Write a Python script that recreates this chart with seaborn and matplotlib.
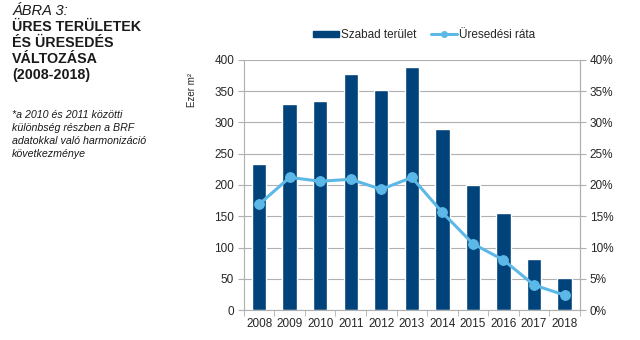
import matplotlib
matplotlib.use("Agg")
import matplotlib.pyplot as plt
import seaborn as sns
import pandas as pd
from matplotlib.ticker import FuncFormatter, MultipleLocator
from matplotlib.lines import Line2D
from matplotlib.patches import Patch

years = ["2008", "2009", "2010", "2011", "2012", "2013", "2014", "2015", "2016", "2017", "2018"]
szabad = [233, 330, 335, 378, 352, 389, 290, 200, 155, 81, 51]
rata = [16.9, 21.2, 20.6, 20.9, 19.3, 21.2, 15.6, 10.6, 8.0, 4.0, 2.4]

title_lines = ["ÜRES TERÜLETEK", "ÉS ÜRESEDÉS", "VÁLTOZÁSA", "(2008-2018)"]
note_lines = ["*a 2010 és 2011 közötti", "különbség részben a BRF",
              "adatokkal való harmonizáció", "következménye"]

sns.set_style("white")
plt.rcParams['font.family'] = ['Liberation Sans', 'DejaVu Sans']

bar_c = "#00427a"
line_c = "#5cb8e6"
grid_c = "#b0b0b0"

df = pd.DataFrame({"year": years, "szabad": szabad, "rata": rata})

fig = plt.figure(figsize=(6.4, 3.4), dpi=100)
ax = fig.add_axes([0.381, 0.088, 0.525, 0.736])
sns.barplot(data=df, x="year", y="szabad", color=bar_c, width=0.47, ax=ax, saturation=1)
ax.set_ylim(0, 400)
ax.yaxis.set_major_locator(MultipleLocator(50))
ax.set_xlim(-0.5, len(years) - 0.5)
ax.grid(axis="y", color=grid_c, linewidth=0.8)
ax.set_axisbelow(True)
ax.set_xlabel("")
ax.set_ylabel("")
ax.spines["top"].set_visible(False)
for s in ["left", "bottom", "right"]:
    ax.spines[s].set_color(grid_c)
    ax.spines[s].set_linewidth(0.8)
ax.tick_params(axis="y", length=4, color=grid_c, labelsize=8.5, pad=3, direction="out", left=True)
ax.tick_params(axis="x", length=0, labelsize=8.5, pad=6)
ax.set_xticks([i + 0.5 for i in range(-1, len(years))], minor=True)
ax.tick_params(axis="x", which="minor", length=4, color=grid_c, direction="out", bottom=True)

ax2 = ax.twinx()
sns.lineplot(x=list(range(len(years))), y=rata, ax=ax2, color=line_c, linewidth=2.2,
             marker="o", markersize=7, markeredgecolor=line_c)
ax2.set_ylim(0, 40)
ax2.yaxis.set_major_locator(MultipleLocator(5))
ax2.yaxis.set_major_formatter(FuncFormatter(lambda v, p: f"{v:.0f}%"))
ax2.tick_params(axis="y", length=4, color=grid_c, labelsize=8.5, pad=3, direction="out", right=True)
for s in ["top", "left", "bottom"]:
    ax2.spines[s].set_visible(False)
ax2.spines["right"].set_color(grid_c)
ax2.spines["right"].set_linewidth(0.8)
ax2.set_ylabel("")

fig.text(0.30, 0.735, "Ezer m²", rotation=90, fontsize=7, ha="center", va="center")

handles = [Patch(facecolor=bar_c, edgecolor=bar_c),
           Line2D([0], [0], color=line_c, linewidth=2.2, marker="o", markersize=4)]
fig.legend(handles, ["Szabad terület", "Üresedési ráta"], loc="center", bbox_to_anchor=(0.663, 0.897),
           ncol=2, frameon=False, fontsize=8.5, handlelength=2.2, handleheight=0.45,
           columnspacing=1.2, handletextpad=0.2)

fig.text(0.019, 0.967, "ÁBRA 3:", fontsize=10.5, style="italic", va="center", color="#1a1a1a")
y0 = 0.921
for i, t in enumerate(title_lines):
    fig.text(0.019, y0 - i * 0.047, t, fontsize=10.3, fontweight="bold", va="center", color="#1a1a1a")
ny = 0.662
for i, t in enumerate(note_lines):
    fig.text(0.019, ny - i * 0.038, t, fontsize=7.7, style="italic", va="center", color="#1a1a1a")

fig.savefig("out.png", dpi=100)
